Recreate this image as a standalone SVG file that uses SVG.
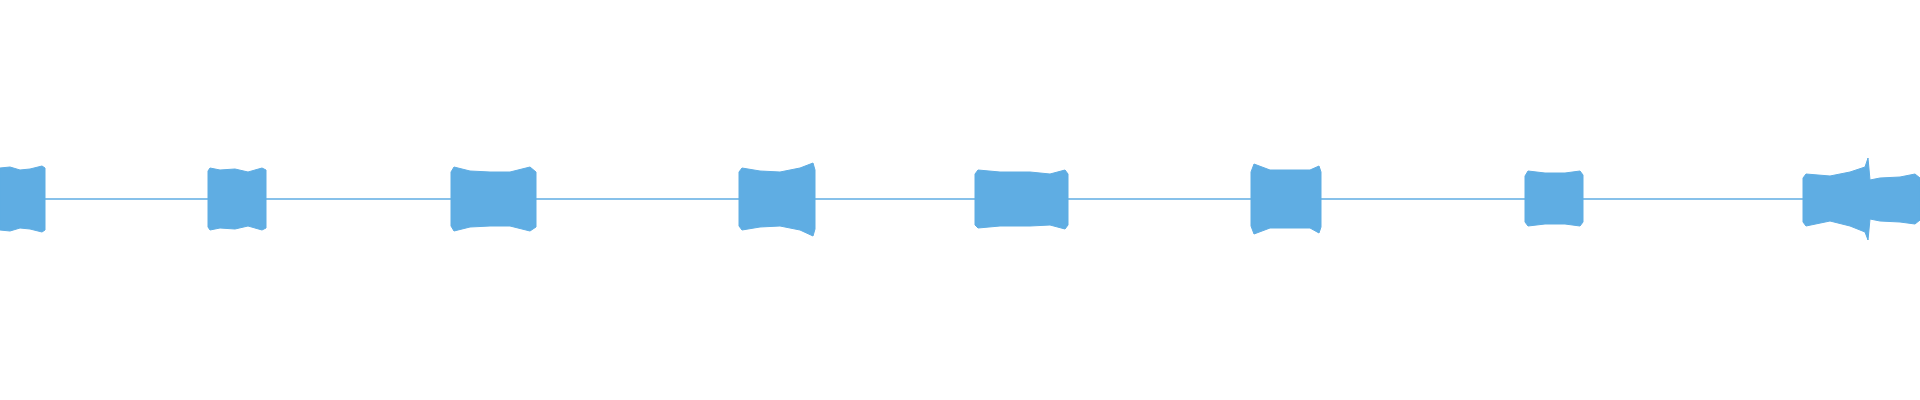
<svg xmlns="http://www.w3.org/2000/svg" width="1920" height="400" viewBox="0 0 1920 400">
<style>.w{fill:#5FADE3;stroke:#5FADE3;stroke-width:1}.b{stroke:#5FADE3;stroke-width:1.3;fill:none}</style>
<rect width="1920" height="400" fill="#fff"/>
<line class="b" x1="0" y1="199" x2="1920" y2="199"/>
<g id="seg1"><path class="w" d="M0,168 L10,167 L20,170 L30,169 L42,166 L45,168 L45,230 L42,232 L30,229 L20,228 L10,231 L0,230 Z"/></g>
<g id="seg2"><path class="w" d="M208,171 L210,168 L220,170 L235,169 L248,172 L262,168 L266,170 L266,228 L262,230 L248,226 L235,229 L220,228 L210,230 L208,227 Z"/></g>
<g id="seg3"><path class="w" d="M451,172 L454,167 L470,171 L490,172 L510,172 L530,167 L536,172 L536,227 L530,231 L510,226 L490,226 L470,227 L454,231 L451,226 Z"/></g>
<g id="seg4"><path class="w" d="M739,172 L742,168 L760,171 L780,172 L800,168 L813,163 L815,170 L815,229 L813,236 L800,230 L780,226 L760,227 L742,230 L739,226 Z"/></g>
<g id="seg5"><path class="w" d="M975,174 L978,170 L1000,172 L1030,172 L1050,174 L1065,170 L1068,174 L1068,225 L1065,229 L1050,225 L1030,226 L1000,226 L978,228 L975,225 Z"/></g>
<g id="seg6"><path class="w" d="M1251,172 L1254,164 L1270,170 L1290,170 L1310,170 L1319,166 L1321,172 L1321,227 L1319,233 L1310,228 L1290,228 L1270,228 L1254,234 L1251,226 Z"/></g>
<g id="seg7"><path class="w" d="M1525,176 L1528,171 L1545,173 L1565,173 L1580,171 L1583,175 L1583,222 L1580,226 L1565,224 L1545,224 L1528,226 L1525,222 Z"/></g>
<g id="seg8"><path class="w" d="M1803,178 L1806,174 L1830,176 L1850,172 L1865,167 L1868,158 L1870,180 L1880,178 L1900,177 L1915,174 L1920,178 L1920,220 L1915,224 L1900,222 L1880,221 L1870,219 L1868,240 L1865,232 L1850,226 L1830,221 L1806,226 L1803,222 Z"/></g>
</svg>
